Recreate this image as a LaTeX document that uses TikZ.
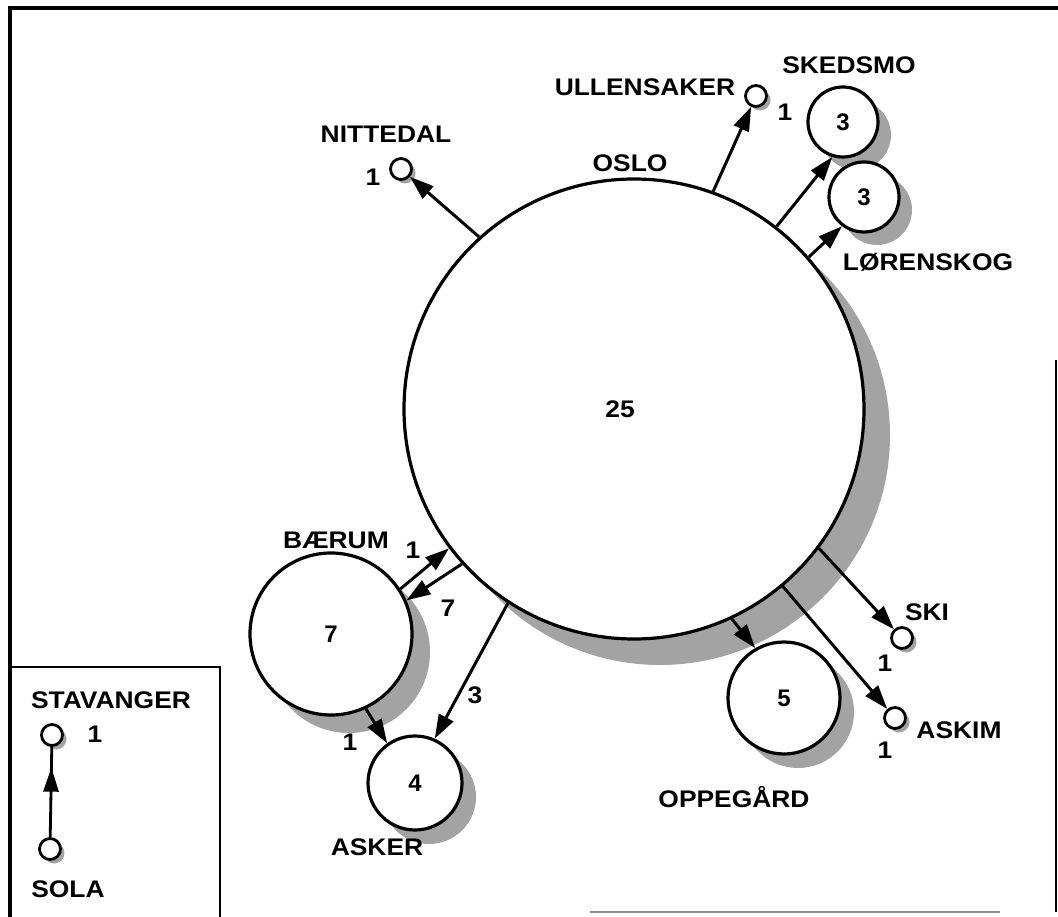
\documentclass[tikz,border=0pt]{standalone}
\usepackage{fontspec}
\setmainfont{Liberation Sans}
\usetikzlibrary{arrows.meta,shadows,decorations.markings}
\begin{document}
\begin{tikzpicture}[x=1pt,y=-1pt,
  lab/.style={font=\fontsize{24}{28}\selectfont\bfseries, xscale=1.1, inner sep=0pt},
  shd/.style={drop shadow={shadow xshift=#1, shadow yshift=-#1, fill=black!36, opacity=1}},
  big/.style={circle, draw, line width=3.2pt, fill=white, inner sep=0pt, minimum size=#1, font=\fontsize{24}{28}\selectfont\bfseries},
  small/.style={circle, draw, line width=2.8pt, fill=white, inner sep=0pt, minimum size=21pt,
     drop shadow={shadow xshift=4pt, shadow yshift=-4pt, fill=black!36, opacity=1}},
  arr/.style={line width=3pt, -{Triangle[length=24pt,width=16pt]}},
  frame/.style={line width=3.2pt},
]
\useasboundingbox (0,0) rectangle (1058,917);
% frame
\draw[frame] (10,917) -- (10,8) -- (1058,8);
\draw[line width=2pt] (1056,360) -- (1056,912);
\draw[line width=1.5pt, black!45] (590,912) -- (1000,912);
% legend box
\draw[line width=2.8pt] (10,667) -- (220,667) -- (220,917);

% circles
\node[big=460pt, shd=26pt] (oslo) at (634,409) {};
\node[lab] (t25) at (620,409) {25};
\node[big=70pt, shd=13pt] (sked) at (843,122) {3};
\node[big=70pt, shd=13pt] (lor) at (864,197) {3};
\node[big=162pt, shd=18pt] (bae) at (331,634) {7};
\node[big=94pt, shd=14pt] (ask) at (415,783) {4};
\node[big=112pt, shd=14pt] (opp) at (784,698) {5};
\node[small] (nit) at (401,169) {};
\node[small] (ull) at (756,96) {};
\node[small] (ski) at (902,638) {};
\node[small] (askim) at (895,718) {};
\node[small] (stav) at (52,735) {};
\node[small] (sola) at (50,849) {};

% labels
\node[lab] (lnit) at (386,134) {NITTEDAL};
\node[lab] (nnit) at (373,177) {1};
\node[lab] (losl) at (630,163) {OSLO};
\node[lab] (lull) at (645,87) {ULLENSAKER};
\node[lab] (null) at (785,112) {1};
\node[lab] (lsked) at (849,65) {SKEDSMO};
\node[lab] (llor) at (928,262) {LØRENSKOG};
\node[lab] (lbae) at (336,540) {BÆRUM};
\node[lab] (n1b) at (413,550) {1};
\node[lab] (n7b) at (448,608) {7};
\node[lab] (n1a) at (350,742) {1};
\node[lab] (n3a) at (475,695) {3};
\node[lab] (lask) at (377,847) {ASKER};
\node[lab] (lopp) at (734,797) {OPPEGÅRD};
\node[lab] (lski) at (927,612) {SKI};
\node[lab] (nski) at (885,663) {1};
\node[lab] (laskim) at (959,730) {ASKIM};
\node[lab] (naskim) at (885,750) {1};
\node[lab] (lstav) at (111,700) {STAVANGER};
\node[lab] (nstav) at (95,734) {1};
\node[lab] (lsola) at (68,889) {SOLA};

% connectors
\draw[arr] (oslo.132) -- (nit);
\draw[arr] (oslo.70) -- (ull);
\draw[arr] (oslo.52) -- (sked.-107);
\draw[arr] (oslo.41) -- (lor.-127);
\draw[arr] (oslo.-37) -- (ski);
\draw[arr] (oslo.-50) -- (askim);
\draw[arr] (oslo.-65) -- (opp.120);
\draw[arr] (oslo.237) -- (ask.66);
\draw[arr] (bae.33) -- (oslo.217);
\draw[arr] (oslo.222) -- (bae.24);
\draw[arr] (bae.-65) -- (ask.125);
\draw[line width=2.8pt, postaction={decorate},
  decoration={markings, mark=at position 0.77 with {\arrow{Triangle[length=24pt,width=15pt]}}}]
  (sola) -- (stav);
\end{tikzpicture}
\end{document}
